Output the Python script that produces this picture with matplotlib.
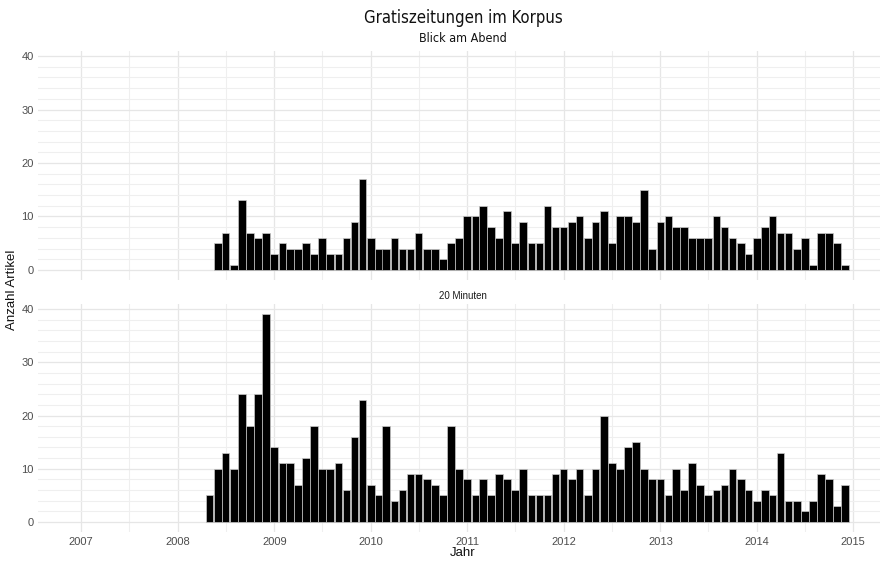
import matplotlib
matplotlib.use("Agg")
import matplotlib.pyplot as plt
import matplotlib.dates as mdates
from matplotlib.ticker import MultipleLocator
import numpy as np
import datetime as dt

# ---- data ----
blick_start = (2008, 6)
blick_values = [5, 7, 1, 13, 7, 6, 7, 3, 5, 4,
                4, 5, 3, 6, 3, 3, 6, 9, 17, 6,
                4, 4, 6, 4, 4, 7, 4, 4, 2, 5,
                6, 10, 10, 12, 8, 6, 11, 5, 9, 5,
                5, 12, 8, 8, 9, 10, 6, 9, 11, 5,
                10, 10, 9, 15, 4, 9, 10, 8, 8, 6,
                6, 6, 10, 8, 6, 5, 3, 6, 8, 10,
                7, 7, 4, 6, 1, 7, 7, 5, 1]

min20_start = (2008, 5)
min20_values = [5, 10, 13, 10, 24, 18, 24, 39, 14, 11,
                11, 7, 12, 18, 10, 10, 11, 6, 16, 23,
                7, 5, 18, 4, 6, 9, 9, 8, 7, 5,
                18, 10, 8, 5, 8, 5, 9, 8, 6, 10,
                5, 5, 5, 9, 10, 8, 10, 5, 10, 20,
                11, 10, 14, 15, 10, 8, 8, 5, 10, 6,
                11, 7, 5, 6, 7, 10, 8, 6, 4, 6,
                5, 13, 4, 4, 2, 4, 9, 8, 3, 7]

panel_titles = ["Blick am Abend", "20 Minuten"]
title = "Gratiszeitungen im Korpus"
xlabel = "Jahr"
ylabel = "Anzahl Artikel"
y_ticks = [0, 10, 20, 30, 40]


def month_dates(start, n):
    y, m = start
    out = []
    for _ in range(n):
        out.append(dt.date(y, m, 1))
        m += 1
        if m > 12:
            m = 1
            y += 1
    return out


W, H = 884, 561
fig = plt.figure(figsize=(W / 100, H / 100), dpi=100)

x_left = mdates.date2num(dt.date(2006, 7, 22))
x_right = mdates.date2num(dt.date(2015, 4, 12))
ylim = (-1.95, 40.95)

# panel pixel boxes (left, top, right, bottom)
boxes = [(38, 51, 880, 280.4), (38, 304, 880, 532.4)]

grid_col = "#e6e6e6"
minor_col = "#efefef"
tick_font = "Liberation Sans"
axes = []
for i, (l, t, r, b) in enumerate(boxes):
    ax = fig.add_axes([l / W, 1 - b / H, (r - l) / W, (b - t) / H])
    axes.append(ax)
    ax.set_xlim(x_left, x_right)
    ax.set_ylim(*ylim)
    for s in ax.spines.values():
        s.set_visible(False)
    ax.xaxis.set_major_locator(mdates.YearLocator())
    ax.xaxis.set_minor_locator(mdates.MonthLocator(bymonth=7))
    ax.xaxis.set_major_formatter(mdates.DateFormatter("%Y"))
    ax.set_yticks(y_ticks)
    ax.yaxis.set_minor_locator(MultipleLocator(2))
    ax.grid(True, which="major", color=grid_col, linewidth=0.9)
    ax.grid(True, which="minor", color=minor_col, linewidth=0.8)
    ax.set_axisbelow(True)
    ax.tick_params(which="both", length=0)
    ax.tick_params(axis="both", labelsize=8, labelcolor="#4d4d4d", pad=3)
    for lab in ax.get_xticklabels() + ax.get_yticklabels():
        lab.set_family(tick_font)
    if i == 0:
        ax.tick_params(axis="x", labelbottom=False)

series = [(blick_start, blick_values), (min20_start, min20_values)]
for ax, (start, vals) in zip(axes, series):
    dates = month_dates(start, len(vals))
    x = mdates.date2num(dates)
    ax.bar(x, vals, width=29, color="black", edgecolor="#c8c8c8",
           linewidth=0.5, align="center")

# title and strip labels
fig.text(463 / W, 1 - 18 / H, title, ha="center", va="center",
         fontsize=12, family="DejaVu Sans", fontstretch="condensed", color="#111111")
fig.text(463 / W, 1 - 39 / H, panel_titles[0], ha="center", va="center",
         fontsize=9, family="DejaVu Sans", fontstretch="condensed", color="#111111")
fig.text(463 / W, 1 - 296 / H, panel_titles[1], ha="center", va="center",
         fontsize=7, family="Liberation Sans", color="#1a1a1a")
fig.text(463 / W, 1 - 553 / H, xlabel, ha="center", va="center",
         fontsize=9.5, family="Liberation Sans", color="#111111")
fig.text(12 / W, 1 - 290 / H, ylabel, ha="center", va="center", rotation=90,
         fontsize=9.5, family="Liberation Sans", color="#111111")

fig.savefig("out.png", dpi=100)
